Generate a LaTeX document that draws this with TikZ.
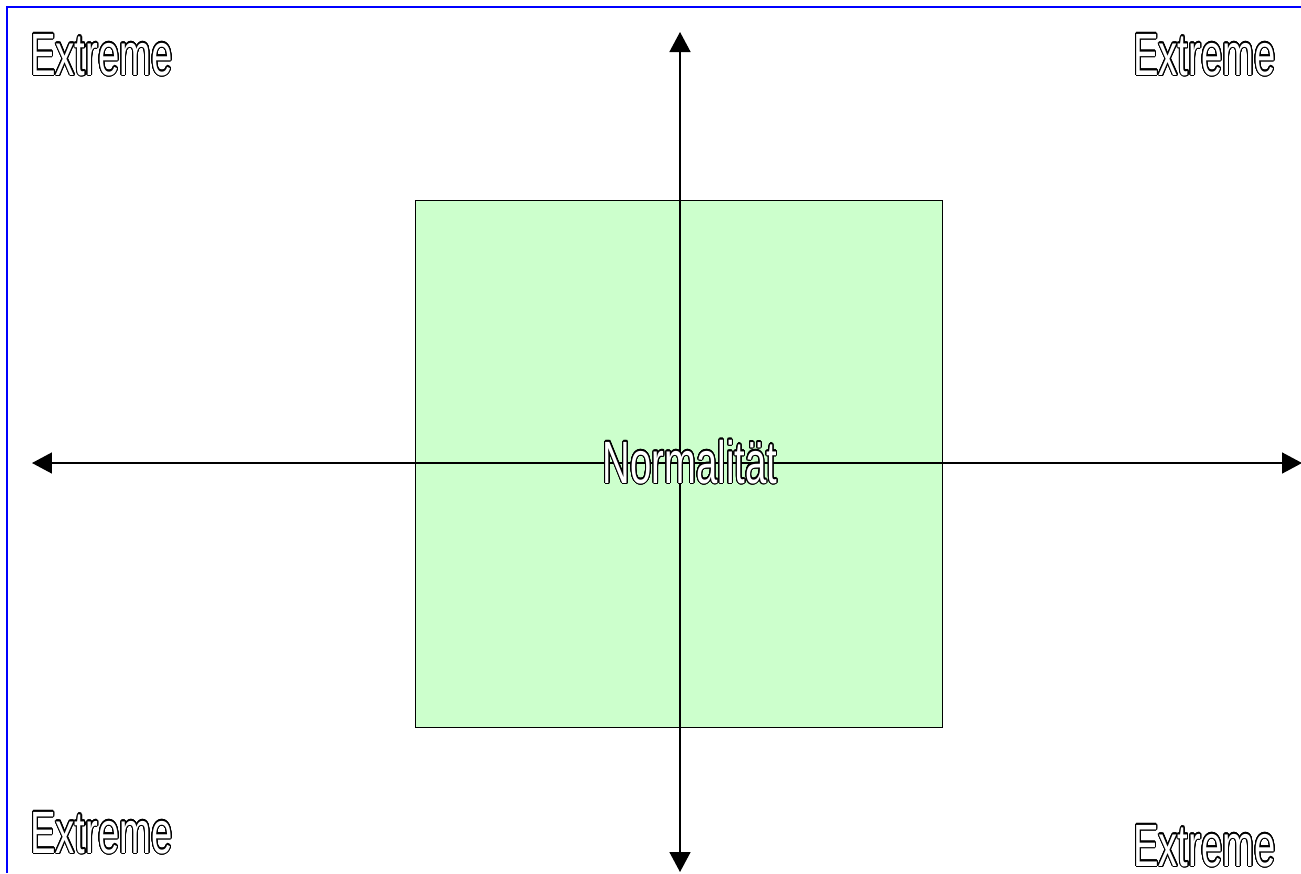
\documentclass[tikz,border=0pt]{standalone}
\usepackage{xcolor}
\usepackage{fontspec}
\usepackage{contour}
\usetikzlibrary{arrows.meta}
\newfontfamily\hollowfont[FakeStretch=0.64]{Liberation Sans}
\definecolor{NMGreen}{HTML}{CCFFCC}
\definecolor{NMFrame}{HTML}{0000FF}
\contourlength{0.6pt}
\contournumber{24}

\begin{document}
\begin{tikzpicture}[x=0.02cm,y=-0.02cm,
  axis/.style={line width=.85pt,{Triangle[length=.4cm,width=.42cm]}-{Triangle[length=.4cm,width=.42cm]}},
  hollow/.style={inner sep=0pt,text=white,font=\hollowfont\fontsize{34}{40}\selectfont}]
\path[use as bounding box] (0,0) rectangle (1301,873);
\fill[white] (0,0) rectangle (1301,873);
\draw[NMFrame,line width=1.2pt] (7,873) -- (7,7) -- (1301,7);
% normal zone
\node[draw,line width=.6pt,fill=NMGreen,minimum width=10.56cm,minimum height=10.56cm,inner sep=0pt] (normal) at (679,464) {};
% axes
\coordinate (top) at (680,32);
\coordinate (bottom) at (680,872);
\coordinate (left) at (32,463);
\coordinate (right) at (1302,463);
\draw[axis] (bottom) -- (top);
\draw[axis] (left) -- (right);
% labels
\node[hollow,anchor=base] (normtext) at (690,483) {\contour{black}{Normalität}};
\node[hollow,anchor=base west] (extNW) at (30,75) {\contour{black}{Extreme}};
\node[hollow,anchor=base east] (extNE) at (1276,75) {\contour{black}{Extreme}};
\node[hollow,anchor=base west] (extSW) at (30,853) {\contour{black}{Extreme}};
\node[hollow,anchor=base east] (extSE) at (1276,866) {\contour{black}{Extreme}};
\end{tikzpicture}
\end{document}
